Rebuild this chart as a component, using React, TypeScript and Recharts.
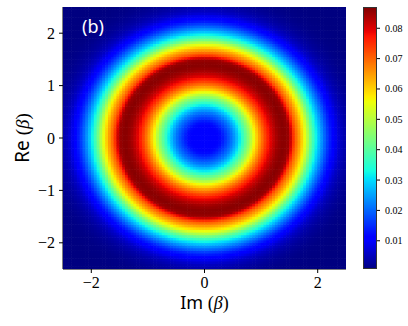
import React from 'react';
import { ScatterChart, Scatter, XAxis, YAxis, Label } from 'recharts';

// Radial profile of the density (radius |beta| -> value)
const radii = [0, 0.1, 0.2, 0.3, 0.4, 0.5, 0.6, 0.7, 0.8, 0.9, 1.0, 1.1, 1.2, 1.3, 1.4, 1.5, 1.6, 1.7, 1.8, 1.9, 2.0, 2.1, 2.2, 2.3, 2.4, 2.5, 2.6, 2.7, 2.8, 2.9, 3.0, 3.2, 3.4, 3.6];
const profile = [0.0105, 0.0106, 0.011, 0.0125, 0.017, 0.022, 0.029, 0.038, 0.047, 0.058, 0.067, 0.075, 0.081, 0.085, 0.0865, 0.085, 0.0715, 0.063, 0.053, 0.04, 0.03, 0.022, 0.015, 0.01, 0.006, 0.0038, 0.0025, 0.0017, 0.0012, 0.001, 0.0008, 0.0007, 0.0007, 0.0007];

const xTicks = [-2, 0, 2];
const yTicks = [-2, -1, 0, 1, 2];
const cbTicks = [0.01, 0.02, 0.03, 0.04, 0.05, 0.06, 0.07, 0.08];
const panelLabel = '(b)';
const xName = 'Im';
const yName = 'Re';
const varName = 'β';

const V_MIN = 0.0007;
const V_MAX = 0.087;
const AX_MIN = -2.5;
const AX_MAX = 2.5;
const N = 100;

// layout
const W = 408;
const H = 326;
const PLOT_L = 63;
const PLOT_R = 346;
const PLOT_T = 7;
const PLOT_B = 269;
const CB_L = 363;
const CB_R = 377;

const SERIF = "'Liberation Serif', 'DejaVu Serif', serif";
const SANS = "'Noto Sans', 'DejaVu Sans', sans-serif";

const jetR = [[0, 0], [0.35, 0], [0.66, 1], [0.89, 1], [1, 0.5]];
const jetG = [[0, 0], [0.125, 0], [0.375, 1], [0.64, 1], [0.91, 0], [1, 0]];
const jetB = [[0, 0.5], [0.11, 1], [0.34, 1], [0.65, 0], [1, 0]];

function pw(f: number, pts: number[][]) {
  for (let i = 1; i < pts.length; i++) {
    if (f <= pts[i][0]) {
      const [x0, y0] = pts[i - 1];
      const [x1, y1] = pts[i];
      return y0 + ((f - x0) / (x1 - x0)) * (y1 - y0);
    }
  }
  return pts[pts.length - 1][1];
}

function jet(v: number) {
  const f = Math.max(0, Math.min(1, (v - V_MIN) / (V_MAX - V_MIN)));
  const r = Math.round(255 * pw(f, jetR));
  const g = Math.round(255 * pw(f, jetG));
  const b = Math.round(255 * pw(f, jetB));
  return `rgb(${r},${g},${b})`;
}

function lookup(r: number) {
  if (r >= radii[radii.length - 1]) return profile[profile.length - 1];
  for (let i = 1; i < radii.length; i++) {
    if (r <= radii[i]) {
      const t = (r - radii[i - 1]) / (radii[i] - radii[i - 1]);
      return profile[i - 1] + t * (profile[i] - profile[i - 1]);
    }
  }
  return profile[profile.length - 1];
}

const step = (AX_MAX - AX_MIN) / N;
const cells: { x: number; y: number; color: string }[] = [];
for (let i = 0; i < N; i++) {
  for (let j = 0; j < N; j++) {
    const x = AX_MIN + step * (i + 0.5);
    const y = AX_MIN + step * (j + 0.5);
    cells.push({ x, y, color: jet(lookup(Math.hypot(x, y))) });
  }
}

const NLEV = 262;
const levels: { x: number; v: number; color: string }[] = [];
for (let k = 0; k < NLEV; k++) {
  const v = V_MIN + ((k + 0.5) / NLEV) * (V_MAX - V_MIN);
  levels.push({ x: 0.5, v, color: jet(v) });
}

const cellW = (PLOT_R - PLOT_L) / N + 0.6;
const cellH = (PLOT_B - PLOT_T) / N + 0.6;
const levH = (PLOT_B - PLOT_T) / NLEV + 0.6;

const fmt = (v: number) => (v < 0 ? '\u2212' + Math.abs(v) : String(v));

const XTick = (p: any) => (
  <text x={p.x} y={p.y + 13} textAnchor="middle" fill="#000" fontFamily={SERIF} fontSize={16}>
    {fmt(p.payload.value)}
  </text>
);
const YTick = (p: any) => (
  <text x={p.x - 2} y={p.y + 5.5} textAnchor="end" fill="#000" fontFamily={SERIF} fontSize={16}>
    {fmt(p.payload.value)}
  </text>
);
const CbTick = (p: any) => (
  <text x={p.x + 3} y={p.y + 3.5} textAnchor="start" fill="#000" fontFamily={SERIF} fontSize={10}>
    {p.payload.value.toFixed(2)}
  </text>
);

const CellShape = (p: any) => (
  <rect x={p.cx - cellW / 2} y={p.cy - cellH / 2} width={cellW} height={cellH} fill={p.payload.color} />
);
const LevShape = (p: any) => (
  <rect x={CB_L} y={p.cy - levH / 2} width={CB_R - CB_L} height={levH} fill={p.payload.color} />
);

const axisText = (name: string, props: any, rotate: boolean) => {
  const vb = props.viewBox || {};
  const inner = [
    <tspan key="a" fontFamily={SANS}>{name} </tspan>,
    <tspan key="b" fontFamily={SERIF}>(</tspan>,
    <tspan key="c" fontFamily={SERIF} fontStyle="italic">{varName}</tspan>,
    <tspan key="d" fontFamily={SERIF}>)</tspan>,
  ];
  if (rotate) {
    const cx = 22;
    const cy = PLOT_T + (PLOT_B - PLOT_T) / 2;
    return (
      <text x={cx} y={cy} transform={`rotate(-90 ${cx} ${cy})`} textAnchor="middle" dominantBaseline="central" fill="#000" fontSize={19}>
        {inner}
      </text>
    );
  }
  const cx = (vb.x ?? PLOT_L) + (vb.width ?? PLOT_R - PLOT_L) / 2;
  return (
    <text x={cx} y={309} textAnchor="middle" fill="#000" fontSize={18}>
      {inner}
    </text>
  );
};

export default function App() {
  return (
    <div style={{ position: 'absolute', left: 0, top: 0, width: W, height: H, background: '#fff' }}>
      <div style={{ position: 'absolute', left: 0, top: 0 }}>
        <ScatterChart width={W} height={H} margin={{ top: PLOT_T, right: W - PLOT_R, bottom: 0, left: 0 }}>
          <XAxis
            type="number"
            dataKey="x"
            domain={[AX_MIN, AX_MAX]}
            ticks={xTicks}
            allowDataOverflow
            height={H - PLOT_B}
            tick={XTick}
            tickSize={4}
            tickLine={{ stroke: '#000' }}
            axisLine={{ stroke: '#000' }}
          >
            <Label content={(p: any) => axisText(xName, p, false)} />
          </XAxis>
          <XAxis xAxisId="top" orientation="top" type="number" domain={[AX_MIN, AX_MAX]} height={0} tick={false} tickLine={false} axisLine={{ stroke: '#000' }} />
          <YAxis
            type="number"
            dataKey="y"
            domain={[AX_MIN, AX_MAX]}
            ticks={yTicks}
            allowDataOverflow
            width={PLOT_L}
            tick={YTick}
            tickSize={4}
            tickLine={{ stroke: '#000' }}
            axisLine={{ stroke: '#000' }}
          >
            <Label content={(p: any) => axisText(yName, p, true)} />
          </YAxis>
          <YAxis yAxisId="right" orientation="right" type="number" domain={[AX_MIN, AX_MAX]} width={0} tick={false} tickLine={false} axisLine={{ stroke: '#000' }} />
          <Scatter data={cells} shape={CellShape} isAnimationActive={false} />
        </ScatterChart>
      </div>
      <div style={{ position: 'absolute', left: 0, top: 0 }}>
        <ScatterChart width={W} height={H} margin={{ top: PLOT_T, right: 0, bottom: H - PLOT_B, left: CB_L }}>
          <XAxis type="number" dataKey="x" domain={[0, 1]} hide />
          <YAxis
            type="number"
            dataKey="v"
            orientation="right"
            domain={[V_MIN, V_MAX]}
            ticks={cbTicks}
            allowDataOverflow
            width={W - CB_R}
            tick={CbTick}
            tickSize={3}
            tickLine={{ stroke: '#000' }}
            axisLine={false}
          />
          <Scatter data={levels} shape={LevShape} isAnimationActive={false} />
        </ScatterChart>
      </div>
      <div
        style={{
          position: 'absolute',
          left: CB_L,
          top: PLOT_T,
          width: CB_R - CB_L,
          height: PLOT_B - PLOT_T,
          border: '1px solid #333',
          boxSizing: 'border-box',
          pointerEvents: 'none',
        }}
      />
      <div
        style={{
          position: 'absolute',
          left: 82,
          top: 14,
          color: '#fff',
          fontFamily: SANS,
          fontSize: 18,
          lineHeight: '24px',
        }}
      >
        {panelLabel}
      </div>
    </div>
  );
}
